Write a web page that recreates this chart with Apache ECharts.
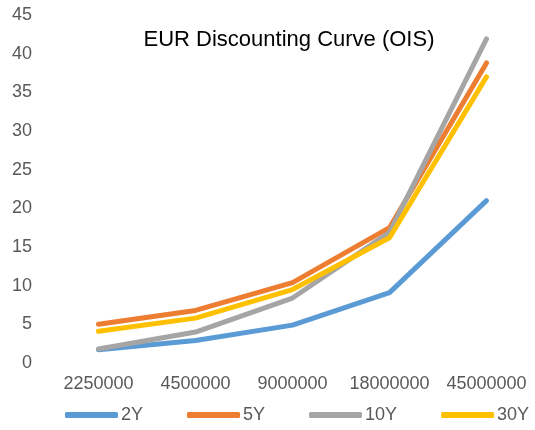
<!DOCTYPE html>
<html><head><meta charset="utf-8">
<script src="https://cdn.jsdelivr.net/npm/echarts@6/dist/echarts.min.js"></script>
<style>html,body{margin:0;padding:0;background:#fff}#c{width:535px;height:430px}</style>
</head><body><div id="c"></div>
<script>
const categories = ['2250000','4500000','9000000','18000000','45000000'];
const s2Y  = [1.7, 2.9, 4.9, 9.1, 21.0];
const s5Y  = [5.0, 6.8, 10.4, 17.5, 38.8];
const s10Y = [1.8, 4.0, 8.4, 16.9, 41.9];
const s30Y = [4.1, 5.8, 9.5, 16.2, 37.0];
const names = ['2Y','5Y','10Y','30Y'];
const colors = ['#5B9BD5','#ED7D31','#A5A5A5','#FFC000'];
const data = [s2Y, s5Y, s10Y, s30Y];
const font = 'Liberation Sans, Arial, sans-serif';
const chart = echarts.init(document.getElementById('c'), null, {renderer:'canvas'});
chart.setOption({
  animation:false,
  color: colors,
  title:{text:'EUR Discounting Curve (OIS)', left:284, top:24, textAlign:'center',
    textStyle:{fontFamily:font, fontSize:22, fontWeight:'normal', color:'#000'}},
  legend:{bottom:1, left:60, itemWidth:53, itemHeight:6, itemGap:44, icon:'roundRect',
    textStyle:{fontFamily:font, fontSize:18, color:'#595959', padding:[0,0,0,-2]},
    data: names},
  grid:{left:50, right:0, top:15, bottom:67},
  xAxis:{type:'category', data:categories, boundaryGap:true,
    axisLine:{show:false}, axisTick:{show:false},
    axisLabel:{fontFamily:font, fontSize:18, color:'#595959', margin:12, interval:0}},
  yAxis:{type:'value', min:0, max:45, interval:5,
    splitLine:{show:false}, axisLine:{show:false}, axisTick:{show:false},
    axisLabel:{fontFamily:font, fontSize:18, color:'#595959', margin:18}},
  series: names.map((n,i)=>({name:n, type:'line', data:data[i], showSymbol:false, symbol:'none',
    lineStyle:{width:5, cap:'round', join:'round', color:colors[i]}}))
});
</script></body></html>
